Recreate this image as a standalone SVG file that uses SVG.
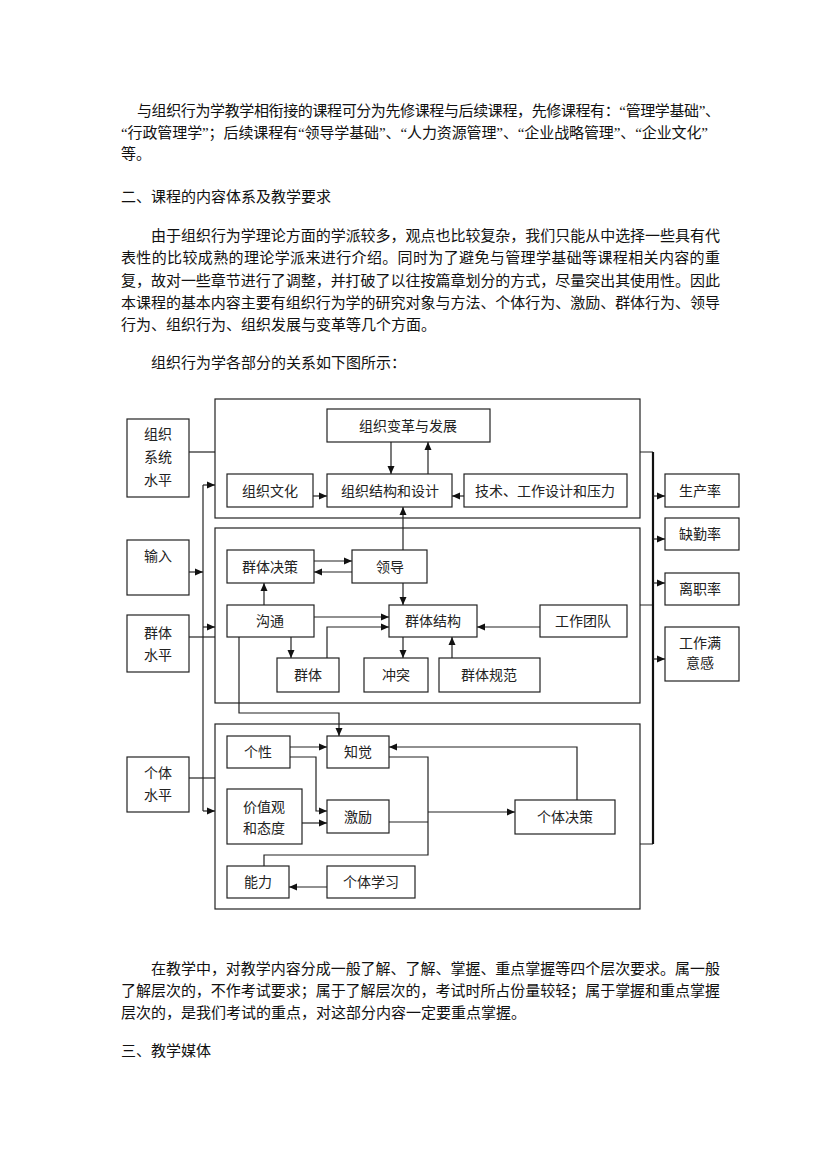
<svg xmlns="http://www.w3.org/2000/svg" width="826" height="1168" viewBox="0 0 826 1168">
<style>
.p{font-family:"Liberation Serif","Noto Sans CJK SC",serif;font-size:15px;fill:#111}
.t{font-family:"Liberation Sans","Noto Sans CJK SC",sans-serif;font-size:14px;fill:#222;text-anchor:middle;dominant-baseline:central}
.b{fill:#fff;stroke:#222;stroke-width:1.2}
.c{fill:none;stroke:#222;stroke-width:1.2}
.bus{fill:none;stroke:#111;stroke-width:2.2}
.a{marker-end:url(#ah)}
</style>
<defs>
<marker id="ah" viewBox="0 0 8 8" refX="8" refY="4" markerWidth="8" markerHeight="8" markerUnits="userSpaceOnUse" orient="auto">
<path d="M0,0.5 L8,4 L0,7.5 z" fill="#111"/>
</marker>
</defs>
<rect width="826" height="1168" fill="#fff"/>

<g id="text-top">
<text class="p" x="137" y="116" textLength="583" lengthAdjust="spacing">与组织行为学教学相衔接的课程可分为先修课程与后续课程，先修课程有：“管理学基础”、</text>
<text class="p" x="121" y="138" textLength="587" lengthAdjust="spacing">“行政管理学”；后续课程有“领导学基础”、“人力资源管理”、“企业战略管理”、“企业文化”</text>
<text class="p" x="121" y="159">等。</text>
<text class="p" x="121" y="202">二、课程的内容体系及教学要求</text>
<text class="p" x="151" y="241" textLength="569" lengthAdjust="spacing">由于组织行为学理论方面的学派较多，观点也比较复杂，我们只能从中选择一些具有代</text>
<text class="p" x="121" y="263" textLength="599" lengthAdjust="spacing">表性的比较成熟的理论学派来进行介绍。同时为了避免与管理学基础等课程相关内容的重</text>
<text class="p" x="121" y="286" textLength="599" lengthAdjust="spacing">复，故对一些章节进行了调整，并打破了以往按篇章划分的方式，尽量突出其使用性。因此</text>
<text class="p" x="121" y="308" textLength="599" lengthAdjust="spacing">本课程的基本内容主要有组织行为学的研究对象与方法、个体行为、激励、群体行为、领导</text>
<text class="p" x="121" y="330">行为、组织行为、组织发展与变革等几个方面。</text>
<text class="p" x="151" y="368">组织行为学各部分的关系如下图所示：</text>
</g>

<g id="containers">
<rect id="org-level" class="c" x="215" y="399" width="425" height="119"/>
<rect id="group-level" class="c" x="215" y="528" width="425" height="175"/>
<rect id="individual-level" class="c" x="215" y="724" width="425" height="185"/>
</g>

<g id="connectors">
<path class="c" d="M189,452 H215"/>
<path class="c" d="M189,637 H215"/>
<path class="c" d="M189,778 H215"/>
<path class="c a" d="M189,572 H203"/>
<path class="c" d="M203,485 V811"/>
<path class="c a" d="M203,485 H215"/>
<path class="c a" d="M203,627 H215"/>
<path class="c a" d="M203,811 H215"/>
<path class="c a" d="M391,442 V474"/>
<path class="c a" d="M428,474 V442"/>
<path class="c a" d="M313,496 H327"/>
<path class="c a" d="M464,496 H452"/>
<path class="c a" d="M403,550 V507"/>
<path class="c a" d="M314,561 H352"/>
<path class="c a" d="M352,572 H314"/>
<path class="c a" d="M264,605 V583"/>
<path class="c a" d="M403,583 V605"/>
<path class="c a" d="M314,617 H389"/>
<path class="c a" d="M327,658 V627 H389"/>
<path class="c a" d="M291,637 V658"/>
<path class="c a" d="M403,637 V658"/>
<path class="c a" d="M452,658 V637"/>
<path class="c a" d="M540,627 H477"/>
<path class="c a" d="M239,637 V713 H339 V736"/>
<path class="c a" d="M290,747 H327"/>
<path class="c a" d="M290,757 H316 V811 H327"/>
<path class="c a" d="M302,823 H327"/>
<path class="c" d="M389,757 H428 V855 H264 V866"/>
<path class="c" d="M389,822 H428"/>
<path class="c a" d="M428,812 H515"/>
<path class="c a" d="M577,800 V747 H389"/>
<path class="c a" d="M327,887 H289"/>
<path class="c" d="M640,452 H653 M640,605 H653 M640,844 H653"/>
<path class="bus" d="M653,452 V844"/>
<path class="c a" d="M653,496 H665"/>
<path class="c a" d="M653,539 H665"/>
<path class="c a" d="M653,583 H665"/>
<path class="c a" d="M653,659 H665"/>
</g>

<g id="n-org-system"><rect class="b" x="127" y="419" width="62" height="78"/><text class="t" x="158" y="434">组织</text><text class="t" x="158" y="457">系统</text><text class="t" x="158" y="480">水平</text></g>
<g id="n-input"><rect class="b" x="127" y="540" width="62" height="55"/><text class="t" x="158" y="556">输入</text></g>
<g id="n-group-level"><rect class="b" x="127" y="615" width="62" height="57"/><text class="t" x="158" y="633">群体</text><text class="t" x="158" y="655">水平</text></g>
<g id="n-indiv-level"><rect class="b" x="127" y="757" width="62" height="55"/><text class="t" x="158" y="773">个体</text><text class="t" x="158" y="795">水平</text></g>

<g id="n-change"><rect class="b" x="327" y="409" width="163" height="33"/><text class="t" x="408" y="426">组织变革与发展</text></g>
<g id="n-culture"><rect class="b" x="227" y="474" width="86" height="33"/><text class="t" x="270" y="491">组织文化</text></g>
<g id="n-structure"><rect class="b" x="327" y="474" width="125" height="33"/><text class="t" x="390" y="491">组织结构和设计</text></g>
<g id="n-tech"><rect class="b" x="464" y="474" width="163" height="33"/><text class="t" x="545" y="491">技术、工作设计和压力</text></g>

<g id="n-group-decision"><rect class="b" x="227" y="550" width="87" height="33"/><text class="t" x="270" y="567">群体决策</text></g>
<g id="n-leader"><rect class="b" x="352" y="550" width="75" height="33"/><text class="t" x="390" y="567">领导</text></g>
<g id="n-comm"><rect class="b" x="227" y="605" width="87" height="32"/><text class="t" x="270" y="621">沟通</text></g>
<g id="n-group-structure"><rect class="b" x="389" y="605" width="88" height="32"/><text class="t" x="433" y="621">群体结构</text></g>
<g id="n-team"><rect class="b" x="540" y="605" width="87" height="32"/><text class="t" x="583" y="621">工作团队</text></g>
<g id="n-group"><rect class="b" x="277" y="658" width="62" height="34"/><text class="t" x="308" y="675">群体</text></g>
<g id="n-conflict"><rect class="b" x="364" y="658" width="64" height="34"/><text class="t" x="396" y="675">冲突</text></g>
<g id="n-norms"><rect class="b" x="439" y="658" width="101" height="34"/><text class="t" x="489" y="675">群体规范</text></g>

<g id="n-personality"><rect class="b" x="227" y="736" width="63" height="32"/><text class="t" x="258" y="752">个性</text></g>
<g id="n-perception"><rect class="b" x="327" y="736" width="62" height="32"/><text class="t" x="358" y="752">知觉</text></g>
<g id="n-values"><rect class="b" x="227" y="789" width="75" height="55"/><text class="t" x="264" y="807">价值观</text><text class="t" x="264" y="828">和态度</text></g>
<g id="n-motivation"><rect class="b" x="327" y="800" width="62" height="33"/><text class="t" x="358" y="817">激励</text></g>
<g id="n-indiv-decision"><rect class="b" x="515" y="800" width="100" height="34"/><text class="t" x="565" y="817">个体决策</text></g>
<g id="n-ability"><rect class="b" x="227" y="866" width="62" height="32"/><text class="t" x="258" y="882">能力</text></g>
<g id="n-learning"><rect class="b" x="327" y="866" width="88" height="32"/><text class="t" x="371" y="882">个体学习</text></g>

<g id="n-productivity"><rect class="b" x="665" y="474" width="74" height="33"/><text class="t" x="700" y="491">生产率</text></g>
<g id="n-absence"><rect class="b" x="665" y="518" width="74" height="32"/><text class="t" x="700" y="534">缺勤率</text></g>
<g id="n-turnover"><rect class="b" x="665" y="573" width="74" height="32"/><text class="t" x="700" y="589">离职率</text></g>
<g id="n-satisfaction"><rect class="b" x="665" y="627" width="74" height="54"/><text class="t" x="700" y="643">工作满</text><text class="t" x="700" y="663">意感</text></g>

<g id="text-bottom">
<text class="p" x="151" y="974" textLength="569" lengthAdjust="spacing">在教学中，对教学内容分成一般了解、了解、掌握、重点掌握等四个层次要求。属一般</text>
<text class="p" x="121" y="996" textLength="599" lengthAdjust="spacing">了解层次的，不作考试要求；属于了解层次的，考试时所占份量较轻；属于掌握和重点掌握</text>
<text class="p" x="121" y="1018">层次的，是我们考试的重点，对这部分内容一定要重点掌握。</text>
<text class="p" x="121" y="1056">三、教学媒体</text>
</g>
</svg>
